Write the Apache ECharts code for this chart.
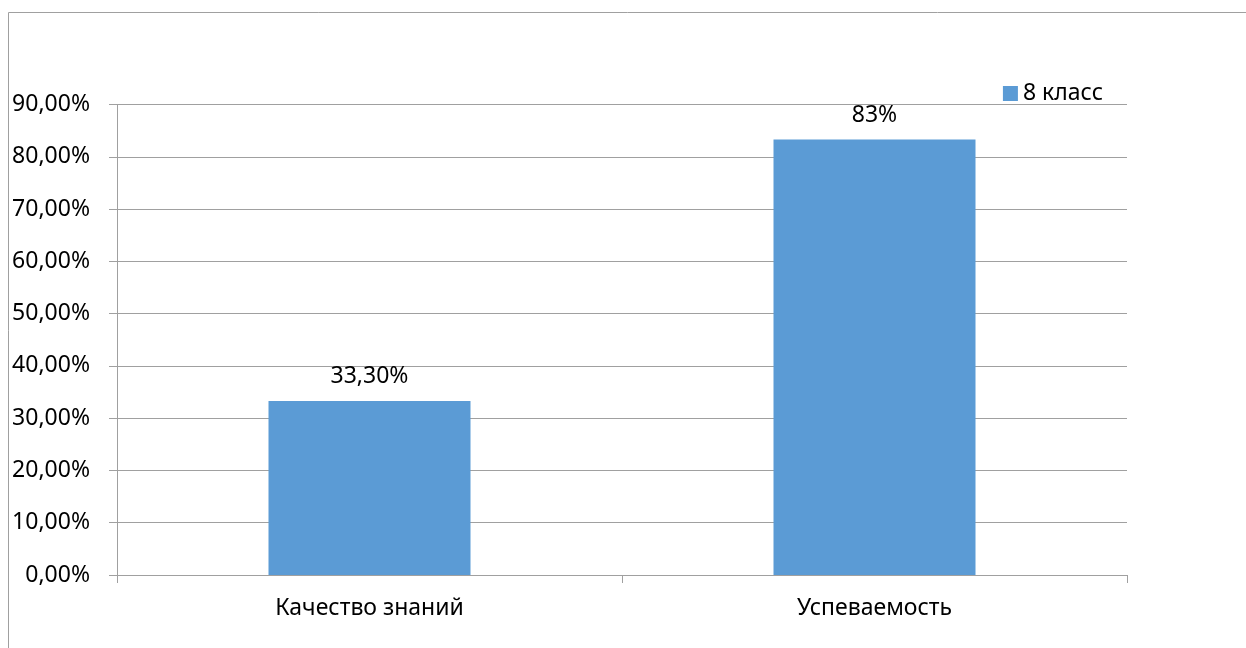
<!DOCTYPE html>
<html><head><meta charset="utf-8">
<script src="https://cdn.jsdelivr.net/npm/echarts@6/dist/echarts.min.js"></script>
<style>html,body{margin:0;padding:0;background:#fff}#c{width:1246px;height:648px}</style>
</head><body><div id="c"></div>
<script>
var categories = ['Качество знаний', 'Успеваемость'];
var seriesName = '8 класс';
var values = [33.3, 83.3];
var valueLabels = ['33,30%', '83%'];
var yTicks = ['0,00%','10,00%','20,00%','30,00%','40,00%','50,00%','60,00%','70,00%','80,00%','90,00%'];

var FONT = 'Noto Sans';
var FS = 23;
var chart = echarts.init(document.getElementById('c'), null, {renderer:'canvas'});
chart.setOption({
  animation: false,
  textStyle: {fontFamily: FONT},
  graphic: [{type:'rect', shape:{x:8.5, y:12.5, width:1300, height:700}, style:{fill:'none', stroke:'#a0a0a0', lineWidth:1}, silent:true}],
  legend: {
    data: [seriesName], right: 138, top: 77, itemWidth: 15, itemHeight: 15, itemGap: 5,
    icon: 'rect',
    textStyle: {fontFamily: FONT, fontSize: FS, color: '#000'}
  },
  grid: {left: 117, right: 119, top: 104.5, bottom: 73, containLabel: false},
  xAxis: {
    type: 'category', data: categories,
    axisLine: {lineStyle: {color: '#a0a0a0'}},
    axisTick: {show: true, length: 8, lineStyle: {color: '#a0a0a0'}},
    axisLabel: {fontFamily: FONT, fontSize: FS, color: '#000', margin: 22}
  },
  yAxis: {
    type: 'value', min: 0, max: 90, interval: 10,
    axisLine: {show: true, lineStyle: {color: '#a0a0a0'}},
    axisTick: {show: true, length: 8, lineStyle: {color: '#a0a0a0'}},
    splitLine: {lineStyle: {color: '#a0a0a0'}},
    axisLabel: {fontFamily: FONT, fontSize: FS, color: '#000', margin: 27,
      formatter: function(v){ return yTicks[Math.round(v/10)]; }}
  },
  series: [{
    name: seriesName, type: 'bar', data: values, barWidth: 202,
    itemStyle: {color: '#5b9bd5'},
    label: {show: true, position: 'top', distance: 13, fontFamily: FONT, fontSize: FS, color: '#000',
      formatter: function(p){ return valueLabels[p.dataIndex]; }}
  }]
});
</script></body></html>
